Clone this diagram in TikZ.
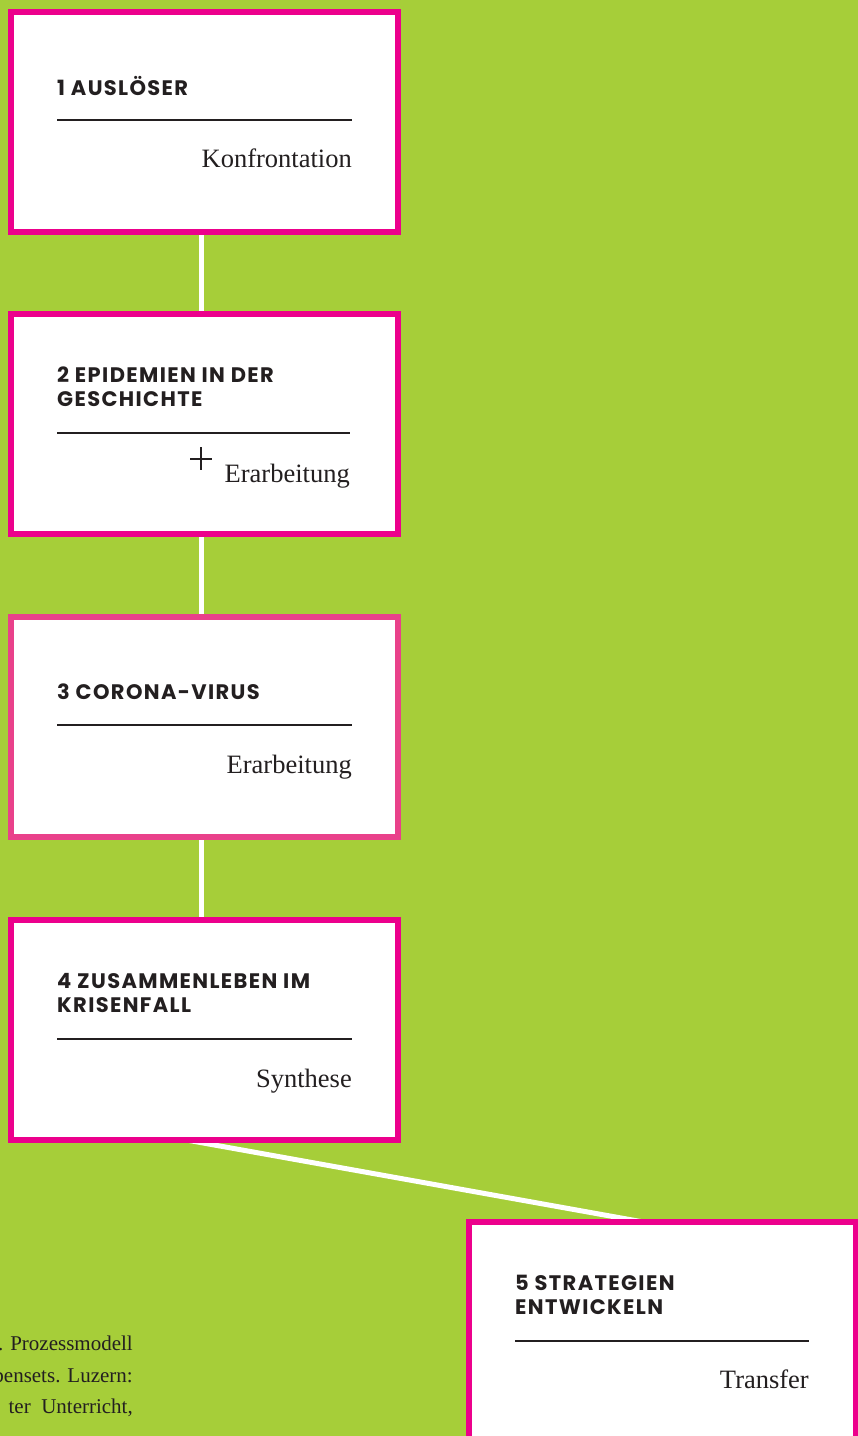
\documentclass[tikz,border=0pt]{standalone}
\usepackage{fontspec}
\newfontfamily\headfont{Poppins}[LetterSpace=6.5]
\newfontfamily\bodyfont{Liberation Serif}
\usetikzlibrary{calc,backgrounds}
\definecolor{bggreen}{HTML}{A6CE39}
\definecolor{mag}{HTML}{EC008C}
\definecolor{pinkb}{HTML}{E9418A}
\definecolor{ink}{HTML}{231F20}
\tikzset{
  box/.style={draw=mag, line width=6pt, fill=white, minimum width=387pt, minimum height=220pt, anchor=north west, inner sep=0pt, outer sep=0pt},
  head/.style={font=\headfont\bfseries\fontsize{21}{24}\selectfont, text=ink, anchor=base west, align=left, inner sep=0pt},
  body/.style={font=\bodyfont\fontsize{26.5}{30}\selectfont, text=ink, anchor=base east, inner sep=0pt},
  rule/.style={draw=ink, line width=1.8pt},
  link/.style={draw=white, line width=5pt},
  cite/.style={font=\bodyfont\fontsize{21}{24}\selectfont, text=ink, anchor=base east, inner sep=0pt},
}
\begin{document}
\begin{tikzpicture}[x=1pt,y=-1pt]
\clip (0,0) rectangle (858,1436);
% boxes
\node[box] (b1) at (11,12) {};
\node[box] (b2) at (11,314) {};
\node[box, draw=pinkb] (b3) at (11,617) {};
\node[box] (b4) at (11,920) {};
\node[box] (b5) at (469,1222) {};
% background and connectors
\begin{scope}[on background layer]
\fill[bggreen] (0,0) rectangle (858,1436);
\draw[link] ([xshift=-3.5pt]b1.south) -- ([xshift=-3.5pt]b2.north);
\draw[link] ([xshift=-3.5pt]b2.south) -- ([xshift=-3.5pt]b3.north);
\draw[link] ([xshift=-3.5pt]b3.south) -- ([xshift=-3.5pt]b4.north);
\draw[link] ([xshift=-18pt]b4.south) -- ([xshift=-19pt]b5.north);
\end{scope}
% box 1
\node[head] (h1) at ($(b1.north west)+(46,83)$) {1 AUSLÖSER};
\draw[rule] ($(b1.north west)+(46,108)$) -- ($(b1.north west)+(341,108)$);
\node[body] (t1) at ($(b1.north west)+(341,155)$) {Konfrontation};
% box 2
\node[head] (h2) at ($(b2.north west)+(46,92)$) {2 EPIDEMIEN IN DER\\GESCHICHTE};
\draw[rule] ($(b2.north west)+(46,119)$) -- ($(b2.north west)+(339,119)$);
\node[body] (t2) at ($(b2.north west)+(339,168)$) {Erarbeitung};
\coordinate (p2) at ($(b2.north west)+(190,145)$);
\draw[ink, line width=1.3pt] ($(p2)+(-11,0)$) -- ($(p2)+(11,0)$) ($(p2)+(0,-12)$) -- ($(p2)+(0,11)$);
% box 3
\node[head] (h3) at ($(b3.north west)+(46,82)$) {3 CORONA-VIRUS};
\draw[rule] ($(b3.north west)+(46,108)$) -- ($(b3.north west)+(341,108)$);
\node[body] (t3) at ($(b3.north west)+(341,156)$) {Erarbeitung};
% box 4
\node[head] (h4) at ($(b4.north west)+(46,92)$) {4 ZUSAMMENLEBEN IM\\KRISENFALL};
\draw[rule] ($(b4.north west)+(46,119)$) -- ($(b4.north west)+(341,119)$);
\node[body] (t4) at ($(b4.north west)+(341,167)$) {Synthese};
% box 5
\node[head] (h5) at ($(b5.north west)+(46,92)$) {5 STRATEGIEN\\ENTWICKELN};
\draw[rule] ($(b5.north west)+(46,119)$) -- ($(b5.north west)+(340,119)$);
\node[body] (t5) at ($(b5.north west)+(340,166)$) {Transfer};
% citation fragment
\node[cite] (c1) at (133,1350) {. Prozessmodell};
\node[cite] (c2) at (133,1382) {bensets. Luzern:};
\node[cite] (c3) at (133,1413) {ter\ \ Unterricht,};
\end{tikzpicture}
\end{document}
